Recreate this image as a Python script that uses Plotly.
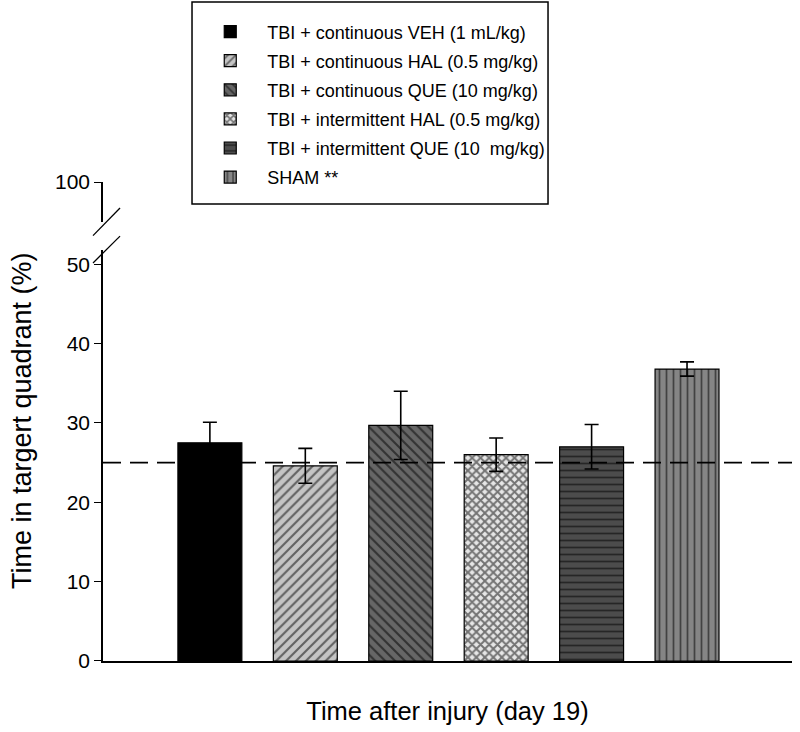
import plotly.graph_objects as go

groups = [
    "TBI + continuous VEH (1 mL/kg)",
    "TBI + continuous HAL (0.5 mg/kg)",
    "TBI + continuous QUE (10 mg/kg)",
    "TBI + intermittent HAL (0.5 mg/kg)",
    "TBI + intermittent QUE (10  mg/kg)",
    "SHAM **",
]
means = [27.5, 24.6, 29.7, 26.0, 27.0, 36.8]
sems = [2.6, 2.2, 4.3, 2.1, 2.8, 0.9]
chance_level = 25
y_ticks_lower = [0, 10, 20, 30, 40, 50]
y_ticks_upper = [100]

styles = [
    dict(color="black", pattern=dict(shape="")),
    dict(color="#c4c4c4", pattern=dict(shape="/", fgcolor="black", size=7, solidity=0.3)),
    dict(color="#666666", pattern=dict(shape="\\", fgcolor="black", size=7, solidity=0.3)),
    dict(color="#e6e6e6", pattern=dict(shape="x", fgcolor="black", size=6, solidity=0.55)),
    dict(color="#4c4c4c", pattern=dict(shape="-", fgcolor="black", size=7, solidity=0.25)),
    dict(color="#858585", pattern=dict(shape="|", fgcolor="black", size=7, solidity=0.25)),
]

fig = go.Figure()
for i, (g, m, s, st) in enumerate(zip(groups, means, sems, styles)):
    fig.add_trace(go.Bar(
        x=[g], y=[m], name=g, width=0.67, legendgroup=f"g{i}",
        marker=dict(color=st["color"], pattern=st["pattern"],
                    line=dict(color="black", width=1.2)),
        error_y=dict(type="data", array=[s], visible=True, color="black",
                     thickness=1.6, width=7),
    ))

# invisible anchor so the upper (broken) axis segment is drawn
fig.add_trace(go.Scatter(x=[groups[0]], y=[y_ticks_upper[0]], yaxis="y2", mode="markers",
                         marker=dict(opacity=0), showlegend=False, hoverinfo="skip"))

# dashed chance line
fig.add_shape(type="line", xref="paper", yref="y", x0=0, x1=1,
              y0=chance_level, y1=chance_level,
              line=dict(color="black", width=1.6, dash="18px,9px"), layer="above")

# axis break marks
for (x0, y0, x1, y1) in [(-0.0145, 0.888, 0.0247, 0.9457), (-0.0145, 0.831, 0.0247, 0.887)]:
    fig.add_shape(type="line", xref="paper", yref="paper", x0=x0, y0=y0, x1=x1, y1=y1,
                  line=dict(color="black", width=1.3))

# legend frame
fig.add_shape(type="rect", xref="paper", yref="paper", x0=0.1292, x1=0.6459,
              y0=0.954, y1=1.3758, line=dict(color="black", width=1.5),
              fillcolor="rgba(0,0,0,0)", layer="above")

# y-axis title centred over the whole (broken) axis
fig.add_annotation(text="Time in targert quadrant (%)", xref="paper", yref="paper",
                   x=-0.1176, y=0.503, textangle=-90, showarrow=False,
                   font=dict(size=27), xanchor="center", yanchor="middle")

font = "Liberation Sans, Arial, sans-serif"
fig.update_layout(
    width=800, height=732,
    margin=dict(l=103, r=8, t=182, b=71, autoexpand=False),
    paper_bgcolor="white", plot_bgcolor="white",
    barmode="overlay",
    font=dict(family=font, size=21, color="black"),
    showlegend=True,
    legend=dict(x=0.131, y=1.352, xanchor="left", yanchor="top",
                bgcolor="rgba(0,0,0,0)", borderwidth=0,
                font=dict(size=18), tracegroupgap=2.7, itemwidth=64),
    xaxis=dict(type="category", categoryorder="array", categoryarray=groups,
               range=[-1.12, 6.1], showticklabels=False, ticks="",
               showline=True, linecolor="black", linewidth=1.6, showgrid=False,
               zeroline=False,
               title=dict(text="Time after injury (day 19)", font=dict(size=25.5), standoff=40)),
    yaxis=dict(domain=[0, 0.858], range=[0, 51.8], tickvals=y_ticks_lower,
               ticks="outside", ticklen=7, tickwidth=1.4, tickcolor="black",
               showline=True, linecolor="black", linewidth=1.6, showgrid=False,
               zeroline=False, tickfont=dict(size=21)),
    yaxis2=dict(domain=[0.9165, 1], range=[95, 100], tickvals=y_ticks_upper,
                anchor="x", ticks="outside", ticklen=7, tickwidth=1.4, tickcolor="black",
                showline=True, linecolor="black", linewidth=1.6, showgrid=False,
                zeroline=False, tickfont=dict(size=21)),
)

fig.write_html("out.html", config={"displayModeBar": False},
               post_script="document.body.style.margin='0';document.body.style.padding='0';")
